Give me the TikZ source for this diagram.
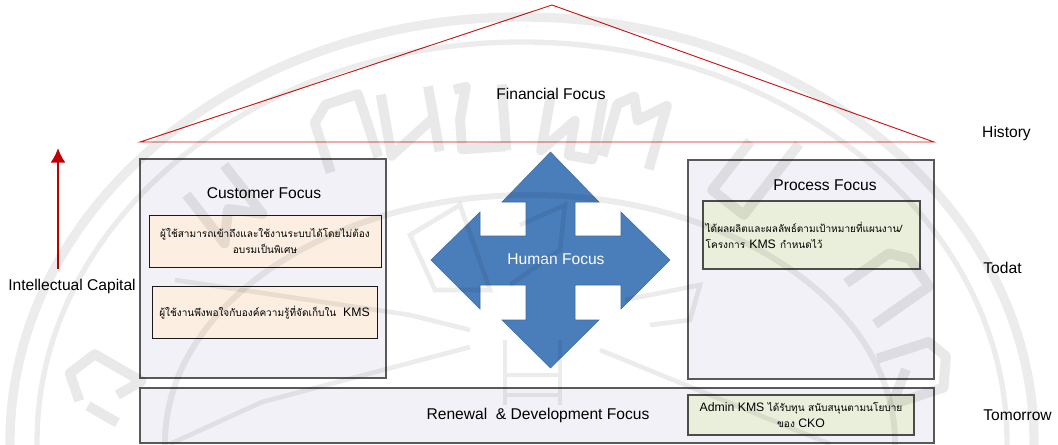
\documentclass[tikz,border=0pt]{standalone}
\usepackage{fontspec}
\usetikzlibrary{arrows.meta}
\setmainfont{Liberation Sans}
\newfontfamily\thaifont[Script=Thai,Scale=0.82]{Loma}
\newcommand{\thx}[1]{{\thaifont #1}}
\definecolor{roofred}{HTML}{CC1414}
\definecolor{arrowred}{HTML}{C00000}
\definecolor{panelfill}{HTML}{F1F1F7}
\definecolor{peachfill}{HTML}{FCEFE2}
\definecolor{greenfill}{HTML}{EAEFDC}
\definecolor{crossblue}{HTML}{4A7EBB}
\definecolor{crossedge}{HTML}{3F6C9F}
\tikzset{
  x=0.75pt,y=-0.75pt,
  panel/.style={draw=black!65,line width=0.8pt,fill=panelfill,inner sep=0pt,outer sep=0pt},
  peach/.style={draw=black!90,line width=0.7pt,fill=peachfill,inner sep=2pt,outer sep=0pt,align=center,font=\fontsize{9.2pt}{12.4pt}\selectfont},
  sage/.style={draw=black!70,line width=0.8pt,fill=greenfill,inner sep=2pt,outer sep=0pt,font=\fontsize{9.2pt}{12pt}\selectfont},
  title/.style={font=\fontsize{11.7pt}{13pt}\selectfont,inner sep=0pt},
  rowlabel/.style={font=\fontsize{11.7pt}{13pt}\selectfont,inner sep=0pt},
  wmband/.style={draw=black,draw opacity=0.075,fill=none,line join=miter},
  wmstroke/.style={draw=black,draw opacity=0.085,fill=none,line width=7.5pt,line join=round},
}
\newcommand{\wmg}[4]{\begin{scope}[shift={(#1,#2)},rotate=#3]\draw[wmstroke] #4;\end{scope}}
\begin{document}
\begin{tikzpicture}
\useasboundingbox (0,0) rectangle (1058,444);
\clip (0,0) rectangle (1058,444);
% roof
\coordinate (roofL) at (140,142);
\coordinate (roofT) at (552,5);
\coordinate (roofR) at (934,142);
\draw[roofred,line width=0.7pt] (roofL) -- (roofT) -- (roofR) -- cycle;
\node[title] (fin) at (551,94) {Financial Focus};
% arrow
\coordinate (capLow) at (58,269);
\coordinate (capHigh) at (58,148);
\draw[arrowred,line width=1.9pt,-{Latex[length=11pt,width=11.5pt]}] (capLow) -- (capHigh);
% panels
\node[panel,minimum width=246*0.75pt,minimum height=219*0.75pt] (cust) at (263,268.5) {};
\node[panel,minimum width=246*0.75pt,minimum height=219*0.75pt] (proc) at (811,269.5) {};
\node[panel,minimum width=794*0.75pt,minimum height=55*0.75pt] (renew) at (537,415.5) {};
\node[title] (custT) at (264,193) {Customer Focus};
\node[title] (procT) at (825,185) {Process Focus};
\node[title] (renewT) at (538,415) {Renewal \ \& Development Focus};
% inner boxes
\node[peach,minimum width=232*0.75pt,minimum height=52*0.75pt] (c1) at (265,241) {\thx{ผู้ใช้สามารถเข้าถึงและใช้งานระบบได้โดยไม่ต้อง}\\\thx{อบรมเป็นพิเศษ}};
\node[peach,minimum width=225*0.75pt,minimum height=52*0.75pt] (c2) at (264.5,312.5) {\thx{ผู้ใช้งานพึงพอใจกับองค์ความรู้ที่จัดเก็บใน} \ KMS};
\node[sage,minimum height=68*0.75pt,text width=217*0.75pt-4pt,align=left] (p1) at (811.5,235) {\thx{ได้ผลผลิตและผลลัพธ์ตามเป้าหมายที่แผนงาน/}\\\thx{โครงการ} KMS \thx{กำหนดไว้}};
\node[sage,minimum width=226*0.75pt,minimum height=40*0.75pt,align=center] (a1) at (801,415) {Admin KMS \thx{ได้รับทุน สนับสนุนตามนโยบาย}\\\thx{ของ} CKO};
% cross
\fill[crossblue,draw=crossedge,line width=0.4pt]
  (550.5,152) -- (599,202) -- (575,202) -- (575,236) -- (621,236) -- (621,212)
  -- (670,260) -- (621,309) -- (621,285) -- (575,285) -- (575,320) -- (599,320)
  -- (550.5,368) -- (502,320) -- (526,320) -- (526,285) -- (480,285) -- (480,309)
  -- (431,260) -- (480,212) -- (480,236) -- (526,236) -- (526,202) -- (502,202) -- cycle;
\node[title,text=white] (human) at (556,259) {Human Focus};
% side labels
\node[rowlabel] (ic) at (72,286) {Intellectual Capital};
\node[rowlabel] (hist) at (1006.5,133) {History};
\node[rowlabel] (tod) at (1002.5,268) {Todat};
\node[rowlabel] (tom) at (1017.5,415) {Tomorrow};
% faint seal printed over the page
\draw[wmband,line width=7pt] (522,442) ellipse [x radius=512,y radius=425];
\draw[wmband,line width=4pt] (522,442) ellipse [x radius=485,y radius=400];
\draw[wmband,line width=4.5pt] (530,443) ellipse [x radius=365,y radius=248];
\draw[wmband,line width=3.5pt] (470,347) -- (262,402) -- (170,444);
\draw[wmband,line width=3.5pt] (600,350) -- (830,444);
\draw[wmband,line width=3.5pt] (175,280) -- (410,315) -- (470,330);
\draw[wmband,line width=3.5pt] (410,235) -- (460,205) -- (490,290) -- (435,290) -- cycle;
\draw[wmband,line width=3.5pt] (520,225) -- (565,205) -- (560,250) -- (510,285);
\draw[wmband,line width=3.5pt] (625,300) -- (700,285) -- (690,320) -- (650,325);
\draw[wmband,line width=3.5pt] (505,405) -- (505,340) (560,405) -- (560,340) (505,375) -- (560,375) (505,395) -- (560,395);
\wmg{345}{132}{18}{(-26,34) -- (-26,-18) -- (-10,-32) -- (24,-32) -- (24,34)}
\wmg{410}{122}{10}{(-24,-32) -- (-24,30) -- (24,0) (24,-32) -- (24,34)}
\wmg{480}{118}{4}{(-24,-30) -- (-12,-32) -- (-20,0) -- (-20,30) -- (24,30) (24,-32) -- (24,34)}
\wmg{570}{125}{-10}{(-24,-30) -- (-24,30) -- (4,-5) -- (4,30) -- (28,30) -- (28,-32)}
\wmg{635}{130}{-16}{(-24,34) -- (-24,-20) -- (-10,-32) -- (0,-10) -- (24,-32) -- (24,34)}
\wmg{748}{180}{-38}{(-22,-32) -- (-22,30) -- (18,30) -- (18,-60)}
\wmg{889}{285}{-55}{(-26,34) -- (-26,-18) -- (-10,-32) -- (24,-32) -- (24,34)}
\wmg{917}{371}{-72}{(-24,34) -- (-24,-20) -- (-5,-32) -- (24,-20) -- (24,34) -- (-5,10)}
\wmg{225}{205}{38}{(-24,-32) -- (-24,30) -- (0,5) -- (24,30) -- (24,-32)}
\wmg{100}{385}{60}{(-24,0) -- (-24,34) (-24,-10) -- (-5,-32) -- (24,-20) -- (24,34) -- (0,20)}
\end{tikzpicture}
\end{document}
